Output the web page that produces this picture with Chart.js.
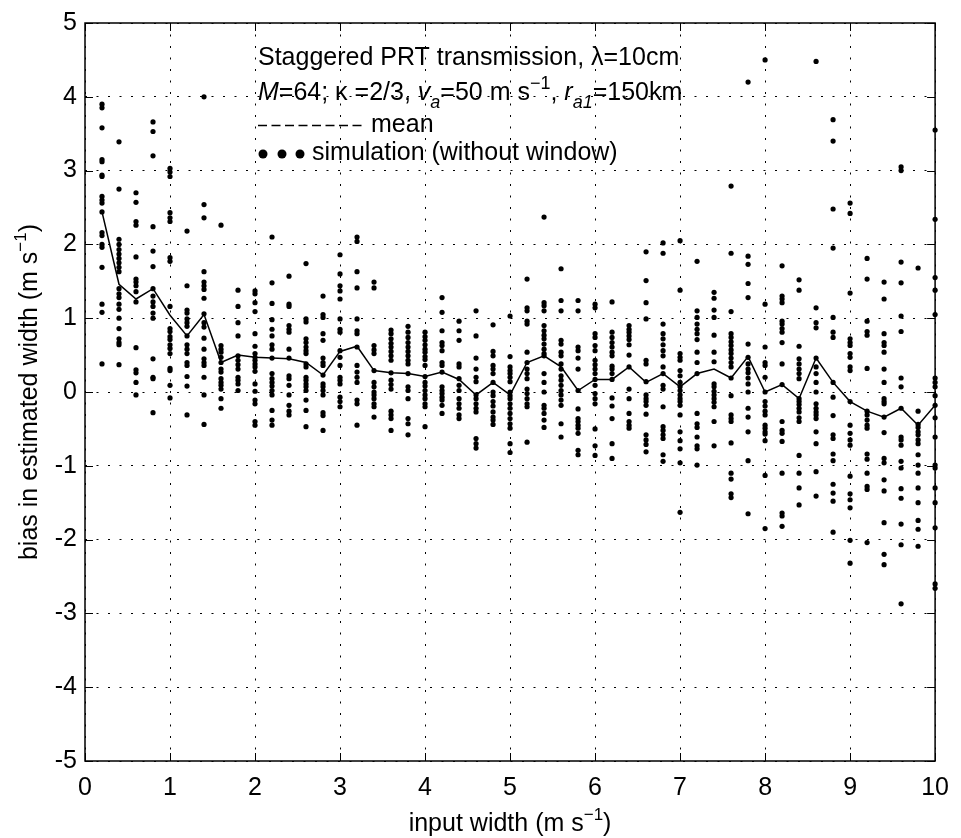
<!DOCTYPE html>
<html>
<head>
<meta charset="utf-8">
<title>Bias in estimated width</title>
<script src="https://cdn.jsdelivr.net/npm/chart.js@4.4.1/dist/chart.umd.min.js"></script>
<style>
  html, body { margin: 0; padding: 0; background: #fff; }
  canvas { display: block; }
</style>
</head>
<body>
<canvas id="biasChart" width="961" height="838"></canvas>
<script>
// input spectrum widths (m s^-1)
const inputWidth = [0.2, 0.4, 0.6, 0.8, 1.0, 1.2, 1.4, 1.6, 1.8, 2.0,
                    2.2, 2.4, 2.6, 2.8, 3.0, 3.2, 3.4, 3.6, 3.8, 4.0,
                    4.2, 4.4, 4.6, 4.8, 5.0, 5.2, 5.4, 5.6, 5.8, 6.0,
                    6.2, 6.4, 6.6, 6.8, 7.0, 7.2, 7.4, 7.6, 7.8, 8.0,
                    8.2, 8.4, 8.6, 8.8, 9.0, 9.2, 9.4, 9.6, 9.8, 10.0];

// mean bias per input width
const meanBias = [2.44, 1.46, 1.26, 1.40, 1.04, 0.76, 1.05, 0.40, 0.50, 0.47,
                  0.46, 0.45, 0.40, 0.23, 0.55, 0.62, 0.29, 0.26, 0.25, 0.21,
                  0.27, 0.17, -0.04, 0.13, -0.04, 0.40, 0.49, 0.34, 0.02, 0.17,
                  0.17, 0.34, 0.13, 0.25, 0.07, 0.25, 0.31, 0.19, 0.48, 0.00,
                  0.10, -0.09, 0.46, 0.13, -0.13, -0.26, -0.34, -0.22, -0.45, -0.18];

// simulation results (without window), one row per input width
const simBias = [
  [3.9, 3.85, 3.58, 3.15, 3.12, 2.94, 2.92, 2.65, 2.6, 2.56, 2.44, 2.16, 2.12, 2.0, 1.96, 1.69, 1.19, 1.08, 0.38],
  [3.39, 2.75, 2.07, 2.0, 1.93, 1.87, 1.81, 1.75, 1.69, 1.63, 1.4, 1.33, 1.28, 1.19, 1.12, 1.0, 0.86, 0.72, 0.67, 0.64, 0.37],
  [2.7, 2.57, 2.31, 2.26, 1.83, 1.53, 1.49, 1.44, 1.36, 1.22, 0.6, 0.3, 0.26, 0.13, -0.04],
  [3.66, 3.53, 3.2, 2.24, 1.91, 1.7, 1.4, 1.3, 1.22, 1.16, 1.07, 1.0, 0.45, 0.2, 0.18, -0.28],
  [3.03, 2.98, 2.92, 2.43, 2.36, 2.31, 1.82, 1.77, 1.16, 0.86, 0.82, 0.75, 0.71, 0.64, 0.59, 0.52, 0.32, 0.29, 0.09, -0.08],
  [2.18, 1.44, 1.11, 1.07, 0.99, 0.94, 0.89, 0.76, 0.64, 0.58, 0.52, 0.4, 0.36, 0.21, 0.08, -0.31],
  [4.0, 2.54, 2.36, 1.63, 1.49, 1.44, 1.39, 1.27, 1.06, 0.94, 0.88, 0.73, 0.58, 0.45, 0.4, 0.36, 0.2, -0.04, -0.44],
  [2.26, 0.63, 0.58, 0.54, 0.47, 0.4, 0.31, 0.27, 0.18, 0.13, 0.09, 0.04, -0.09, -0.22],
  [1.38, 1.16, 0.94, 0.76, 0.49, 0.43, 0.37, 0.31, 0.2, 0.16, 0.11, 0.02],
  [1.37, 1.33, 1.21, 1.09, 0.79, 0.62, 0.52, 0.47, 0.43, 0.38, 0.34, 0.28, 0.11, 0.01, -0.11, -0.16, -0.4, -0.45],
  [2.1, 1.48, 1.2, 0.98, 0.85, 0.76, 0.64, 0.58, 0.46, 0.25, 0.18, 0.13, 0.08, 0.02, -0.04, -0.25, -0.38, -0.45],
  [1.57, 1.19, 1.16, 0.9, 0.85, 0.81, 0.58, 0.46, 0.22, 0.18, 0.09, -0.04, -0.18, -0.26, -0.31],
  [1.74, 0.99, 0.95, 0.72, 0.67, 0.61, 0.56, 0.52, 0.38, 0.34, 0.2, 0.16, 0.11, 0.07, 0.02, -0.11, -0.25, -0.47],
  [1.3, 1.05, 1.01, 0.79, 0.7, 0.46, 0.4, 0.36, 0.23, 0.11, 0.07, 0.02, -0.04, -0.28, -0.32, -0.52],
  [1.86, 1.6, 1.44, 1.37, 1.26, 0.99, 0.85, 0.81, 0.56, 0.47, 0.36, 0.2, 0.16, 0.11, -0.07, -0.13, -0.2],
  [2.1, 2.04, 1.63, 1.41, 0.99, 0.83, 0.79, 0.61, 0.36, 0.27, 0.2, 0.13, -0.11, -0.16, -0.45],
  [1.49, 1.41, 0.63, 0.57, 0.52, 0.29, 0.13, 0.07, 0.0, -0.04, -0.09, -0.16, -0.2, -0.34],
  [0.84, 0.79, 0.72, 0.66, 0.61, 0.55, 0.49, 0.43, 0.26, 0.16, 0.1, 0.04, -0.26, -0.31, -0.36, -0.52],
  [0.89, 0.81, 0.74, 0.67, 0.61, 0.55, 0.49, 0.43, 0.38, 0.25, 0.07, 0.02, -0.09, -0.36, -0.43, -0.58],
  [0.81, 0.75, 0.7, 0.64, 0.58, 0.54, 0.48, 0.44, 0.36, 0.21, 0.13, 0.08, 0.02, -0.04, -0.09, -0.16, -0.2, -0.47],
  [1.28, 1.08, 0.83, 0.67, 0.63, 0.56, 0.4, 0.36, 0.27, 0.07, 0.02, -0.02, -0.07, -0.11, -0.18, -0.29],
  [0.96, 0.83, 0.7, 0.38, 0.34, 0.18, 0.09, 0.02, -0.09, -0.16, -0.22, -0.31, -0.36],
  [1.1, 0.76, 0.46, 0.31, 0.2, 0.14, -0.04, -0.09, -0.16, -0.22, -0.27, -0.63, -0.7, -0.76],
  [0.91, 0.55, 0.49, 0.36, 0.31, 0.25, 0.13, 0.0, -0.05, -0.13, -0.19, -0.27, -0.34, -0.38, -0.44],
  [1.03, 0.48, 0.34, 0.29, 0.25, 0.2, 0.14, 0.0, -0.05, -0.09, -0.16, -0.22, -0.29, -0.36, -0.43, -0.49, -0.7, -0.82],
  [1.53, 1.14, 1.1, 0.96, 0.92, 0.54, 0.4, 0.31, 0.25, 0.18, 0.04, -0.02, -0.09, -0.16, -0.2, -0.68],
  [2.37, 1.21, 1.17, 1.1, 0.9, 0.83, 0.77, 0.72, 0.65, 0.58, 0.52, 0.49, 0.25, 0.13, 0.0, -0.18, -0.22, -0.29, -0.38, -0.48],
  [1.67, 1.24, 1.1, 0.7, 0.65, 0.54, 0.49, 0.38, 0.31, 0.22, 0.16, 0.09, 0.02, -0.04, -0.11, -0.18, -0.43, -0.61],
  [1.24, 1.1, 0.61, 0.56, 0.46, 0.31, 0.02, -0.23, -0.36, -0.4, -0.45, -0.49, -0.56, -0.79, -0.85],
  [1.19, 1.14, 0.79, 0.74, 0.63, 0.56, 0.43, 0.37, 0.31, 0.25, 0.17, 0.09, -0.02, -0.09, -0.16, -0.5, -0.73, -0.86],
  [1.22, 0.81, 0.74, 0.67, 0.61, 0.54, 0.49, 0.35, 0.31, 0.25, 0.17, -0.08, -0.19, -0.36, -0.7, -0.9],
  [0.9, 0.85, 0.81, 0.76, 0.71, 0.64, 0.5, 0.34, 0.04, -0.09, -0.29, -0.4, -0.45, -0.49],
  [1.9, 1.51, 1.21, 0.99, 0.43, 0.38, 0.14, -0.04, -0.09, -0.13, -0.18, -0.3, -0.58, -0.65, -0.71, -0.81],
  [2.02, 1.88, 0.92, 0.79, 0.72, 0.64, 0.56, 0.49, 0.34, 0.25, 0.09, 0.04, -0.2, -0.47, -0.52, -0.58, -0.63, -0.85, -0.94],
  [2.05, 1.38, 0.52, 0.47, 0.43, 0.29, 0.22, 0.13, 0.07, 0.02, -0.04, -0.09, -0.13, -0.18, -0.31, -0.54, -0.66, -0.77, -0.96, -1.63],
  [1.77, 1.1, 1.01, 0.92, 0.85, 0.79, 0.71, 0.54, 0.4, 0.25, -0.29, -0.43, -0.48, -0.61, -0.73, -0.77, -0.99],
  [1.35, 1.27, 1.11, 1.01, 0.77, 0.54, 0.41, 0.11, 0.07, 0.01, -0.04, -0.09, -0.14, -0.2, -0.4, -0.73],
  [2.79, 1.88, 1.09, 0.79, 0.74, 0.68, 0.63, 0.57, 0.52, 0.46, 0.4, 0.34, 0.19, -0.05, -0.31, -0.36, -0.4, -0.69, -1.1, -1.18, -1.38, -1.43],
  [4.2, 1.84, 1.73, 1.47, 1.28, 0.65, 0.47, 0.38, 0.31, 0.26, 0.19, 0.11, 0.0, -0.22, -0.34, -0.54, -0.93, -1.65],
  [4.5, 1.19, 0.61, 0.4, 0.36, 0.2, 0.0, -0.13, -0.19, -0.26, -0.31, -0.45, -0.49, -0.54, -0.57, -0.66, -1.13, -1.85],
  [1.71, 1.3, 1.26, 1.21, 0.96, 0.92, 0.86, 0.81, 0.67, 0.38, 0.1, -0.4, -0.52, -0.56, -0.67, -1.1, -1.64, -1.68, -1.82],
  [1.52, 1.38, 0.62, 0.45, 0.38, 0.31, 0.25, 0.18, -0.09, -0.13, -0.17, -0.22, -0.27, -0.35, -0.4, -0.86, -1.1, -1.3, -1.53],
  [4.48, 1.14, 0.94, 0.87, 0.46, 0.34, 0.25, 0.13, 0.0, -0.16, -0.22, -0.27, -0.31, -0.36, -0.54, -0.7, -1.08, -1.41],
  [3.69, 3.4, 2.48, 1.95, 1.01, 0.81, 0.74, 0.13, -0.07, -0.32, -0.58, -0.63, -0.84, -0.93, -1.25, -1.37, -1.48, -1.9],
  [2.56, 2.42, 1.34, 0.72, 0.67, 0.63, 0.52, 0.47, 0.34, 0.29, -0.13, -0.45, -0.56, -0.65, -0.72, -1.14, -1.38, -1.46, -1.57, -2.01, -2.32],
  [1.81, 1.53, 0.96, 0.82, 0.77, 0.32, -0.26, -0.31, -0.38, -0.45, -0.49, -0.84, -0.91, -1.1, -1.28, -1.32, -2.04],
  [1.49, 1.26, 0.79, 0.67, 0.63, 0.54, 0.31, 0.13, -0.09, -0.13, -0.16, -0.34, -0.55, -0.9, -0.96, -1.19, -1.34, -1.77, -2.2, -2.34],
  [3.05, 3.0, 1.76, 1.48, 1.03, 0.82, 0.19, 0.07, -0.22, -0.61, -0.65, -0.72, -0.94, -1.03, -1.31, -1.44, -1.79, -2.07, -2.87],
  [1.68, -0.26, -0.44, -0.48, -0.54, -0.58, -0.65, -0.7, -0.85, -0.99, -1.1, -1.3, -1.5, -1.74, -1.86, -2.09],
  [3.55, 2.34, 1.55, 1.38, 1.05, 0.19, 0.13, 0.07, -0.05, -0.18, -0.35, -0.61, -0.99, -1.03, -1.3, -1.5, -1.84, -2.6, -2.66]
];

const xTicks = [0, 1, 2, 3, 4, 5, 6, 7, 8, 9, 10];
const yTicks = [-5, -4, -3, -2, -1, 0, 1, 2, 3, 4, 5];

const FONT = '"Liberation Sans", Arial, Helvetica, sans-serif';
const SIZE = 25;

// build the point lists for the library
const simPoints = [];
simBias.forEach((col, i) => col.forEach(v => simPoints.push({ x: inputWidth[i], y: v })));
const meanPoints = inputWidth.map((w, i) => ({ x: w, y: meanBias[i] }));

// draw a run of text pieces (italic / sub / superscript) starting at x
function textRun(ctx, x, y, parts) {
  parts.forEach(p => {
    ctx.font = (p.italic ? 'italic ' : '') + (p.size || SIZE) + 'px ' + FONT;
    ctx.fillText(p.t, x, y + (p.dy || 0));
    x += ctx.measureText(p.t).width;
  });
  return x;
}
function runWidth(ctx, parts) {
  let w = 0;
  parts.forEach(p => {
    ctx.font = (p.italic ? 'italic ' : '') + (p.size || SIZE) + 'px ' + FONT;
    w += ctx.measureText(p.t).width;
  });
  return w;
}

const unitParts = [{ t: '(m s' }, { t: '\u22121', size: 17, dy: -11 }, { t: ')' }];

// box, inward ticks, annotation text and axis titles
const decorations = {
  id: 'decorations',
  afterDraw(chart) {
    const { ctx, chartArea: a, scales: { x, y } } = chart;
    ctx.save();
    ctx.strokeStyle = '#000';
    ctx.fillStyle = '#000';
    ctx.lineWidth = 1;
    ctx.beginPath();
    xTicks.forEach(v => {
      const px = Math.round(x.getPixelForValue(v)) + 0.5;
      ctx.moveTo(px, a.bottom); ctx.lineTo(px, a.bottom - 8);
      ctx.moveTo(px, a.top); ctx.lineTo(px, a.top + 8);
    });
    yTicks.forEach(v => {
      const py = Math.round(y.getPixelForValue(v)) + 0.5;
      ctx.moveTo(a.left, py); ctx.lineTo(a.left + 8, py);
      ctx.moveTo(a.right, py); ctx.lineTo(a.right - 8, py);
    });
    ctx.stroke();
    ctx.lineWidth = 1.5;
    ctx.strokeRect(a.left, a.top, a.right - a.left, a.bottom - a.top);

    // annotation block
    const tx = 258;
    ctx.textAlign = 'left';
    ctx.textBaseline = 'alphabetic';
    textRun(ctx, tx, 65, [{ t: 'Staggered PRT transmission, \u03bb=10cm' }]);
    textRun(ctx, tx, 100, [
      { t: 'M', italic: true }, { t: '=64; \u03ba =2/3, ' },
      { t: 'v', italic: true }, { t: 'a', italic: true, size: 18, dy: 8 },
      { t: '=50 m s' }, { t: '\u22121', size: 18, dy: -11 }, { t: ', ' },
      { t: 'r', italic: true }, { t: 'a1', italic: true, size: 18, dy: 8 },
      { t: '=150km' }
    ]);
    ctx.lineWidth = 1.5;
    ctx.setLineDash([9, 4.5]);
    ctx.beginPath();
    ctx.moveTo(tx, 125.5); ctx.lineTo(366, 125.5);
    ctx.stroke();
    ctx.setLineDash([]);
    textRun(ctx, 371, 132, [{ t: 'mean' }]);
    [263, 282, 300].forEach(cx => {
      ctx.beginPath();
      ctx.arc(cx, 154, 4.5, 0, Math.PI * 2);
      ctx.fill();
    });
    textRun(ctx, 312, 160, [{ t: 'simulation (without window)' }]);

    // x axis title
    const xParts = [{ t: 'input width ' }].concat(unitParts);
    const xw = runWidth(ctx, xParts);
    textRun(ctx, (a.left + a.right) / 2 - xw / 2, 831, xParts);

    // y axis title
    const yParts = [{ t: 'bias in estimated width ' }].concat(unitParts);
    const yw = runWidth(ctx, yParts);
    ctx.translate(37, (a.top + a.bottom) / 2);
    ctx.rotate(-Math.PI / 2);
    textRun(ctx, -yw / 2, 0, yParts);
    ctx.restore();
  }
};

const biasChart = new Chart(document.getElementById('biasChart'), {
  type: 'scatter',
  data: {
    datasets: [{
      label: 'simulation (without window)',
      data: simPoints,
      pointRadius: 2.6,
      pointHoverRadius: 2.6,
      pointBackgroundColor: '#000',
      pointBorderWidth: 0,
      clip: 6
    }, {
      label: 'mean',
      data: meanPoints,
      showLine: true,
      borderColor: '#000',
      borderWidth: 1.5,
      pointRadius: 0,
      tension: 0
    }]
  },
  options: {
    responsive: false,
    animation: false,
    devicePixelRatio: 1,
    layout: { padding: { top: 19, right: 20, left: 0, bottom: 0 } },
    plugins: { legend: { display: false }, tooltip: { enabled: false } },
    scales: {
      x: {
        type: 'linear', min: 0, max: 10,
        afterBuildTicks: s => { s.ticks = xTicks.map(v => ({ value: v })); },
        afterFit: s => { s.height = 77; },
        grid: { color: '#000', lineWidth: 1, drawTicks: false },
        border: { display: false, dash: [2, 9.5] },
        ticks: { color: '#000', padding: 12, maxRotation: 0, font: { family: FONT, size: SIZE } }
      },
      y: {
        type: 'linear', min: -5, max: 5,
        afterBuildTicks: s => { s.ticks = yTicks.map(v => ({ value: v })); },
        afterFit: s => { s.width = 85; },
        grid: { color: '#000', lineWidth: 1, drawTicks: false },
        border: { display: false, dash: [2, 9.5] },
        ticks: { color: '#000', padding: 8, font: { family: FONT, size: SIZE } }
      }
    }
  },
  plugins: [decorations]
});
</script>
</body>
</html>
